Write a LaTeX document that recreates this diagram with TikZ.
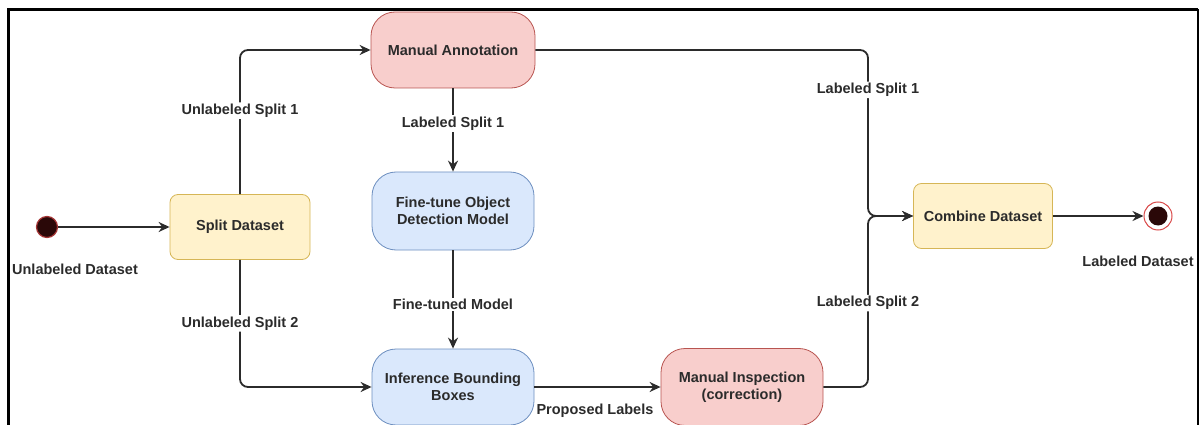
\documentclass[tikz,border=0pt]{standalone}
\usepackage{fontspec}
\setmainfont{Liberation Sans}
\usetikzlibrary{arrows.meta}
\definecolor{yfill}{HTML}{FFF2CC}
\definecolor{ydraw}{HTML}{D6B656}
\definecolor{rfill}{HTML}{F8CECC}
\definecolor{rdraw}{HTML}{B85450}
\definecolor{bfill}{HTML}{DAE8FC}
\definecolor{bdraw}{HTML}{6C8EBF}
\definecolor{txt}{HTML}{2B2B2B}
\definecolor{dot}{HTML}{2A0808}
\definecolor{ring}{HTML}{D94848}
\tikzset{
  x=1pt, y=-1pt,
  every node/.style={font=\bfseries\fontsize{14.5}{16.5}\selectfont, text=txt},
  boxy/.style={draw=ydraw, fill=yfill, rounded corners=8pt, line width=0.8pt, align=center},
  pill/.style={rounded corners=24pt, line width=0.8pt, align=center},
  redpill/.style={pill, draw=rdraw, fill=rfill},
  bluepill/.style={pill, draw=bdraw, fill=bfill},
  flow/.style={draw=txt, line width=1.8pt, -{Stealth[length=11pt,width=10pt]}},
  lbl/.style={fill=white, inner sep=1.5pt},
}
\begin{document}
\begin{tikzpicture}
\useasboundingbox (0,0) rectangle (1200,425);
% frame
\draw[line width=3pt] (8.5,425) -- (8.5,9.5) -- (1198,9.5);
\draw[line width=2pt] (1198,9.5) -- (1198,425);

% states
\node[boxy, minimum width=140pt, minimum height=65pt] (split) at (240,227) {Split Dataset};
\node[redpill, minimum width=164pt, minimum height=76pt] (annot) at (453,50) {Manual Annotation};
\node[bluepill, minimum width=162pt, minimum height=78pt] (tune) at (453,211) {Fine-tune Object\\Detection Model};
\node[bluepill, minimum width=162pt, minimum height=76pt] (infer) at (453,387) {Inference Bounding\\Boxes};
\node[redpill, minimum width=162pt, minimum height=77pt] (insp) at (742,387) {Manual Inspection\\(correction)};
\node[boxy, minimum width=139pt, minimum height=65pt] (comb) at (983,216) {Combine Dataset};

% initial and final states
\node[circle, fill=dot, draw=ring!70!dot, line width=1.2pt, minimum size=21pt, inner sep=0pt] (start) at (47,227) {};
\node[anchor=north] (startlbl) at (75,260) {Unlabeled Dataset};
\node[circle, draw=ring, fill=white, line width=1pt, minimum size=28pt, inner sep=0pt] (finish) at (1158,216) {};
\node[circle, fill=dot, minimum size=19pt, inner sep=0pt] (finishdot) at (finish) {};
\node[anchor=north] (finishlbl) at (1138,252) {Labeled Dataset};

\coordinate (join) at (868,216);

% transitions
\draw[flow] (start) -- (split);
\draw[flow, rounded corners=8pt] (split.north) |- node[lbl, pos=0.29] {Unlabeled Split 1} (annot.west);
\draw[flow, rounded corners=8pt] (split.south) |- node[lbl, pos=0.25] {Unlabeled Split 2} (infer.west);
\draw[flow] (annot) -- node[lbl, pos=0.42] {Labeled Split 1} (tune);
\draw[flow] (tune) -- node[lbl, pos=0.55] {Fine-tuned Model} (infer);
\draw[flow] (infer) -- node[lbl, pos=0.48, below=15pt] {Proposed Labels} (insp);
\draw[flow, rounded corners=8pt] (annot.east) -| node[lbl, pos=0.62] {Labeled Split 1} (join) -- (comb.west);
\draw[flow, rounded corners=8pt] (insp.east) -| node[lbl, pos=0.745] {Labeled Split 2} (join) -- (comb.west);
\draw[flow] (comb) -- (finish);
\end{tikzpicture}
\end{document}
